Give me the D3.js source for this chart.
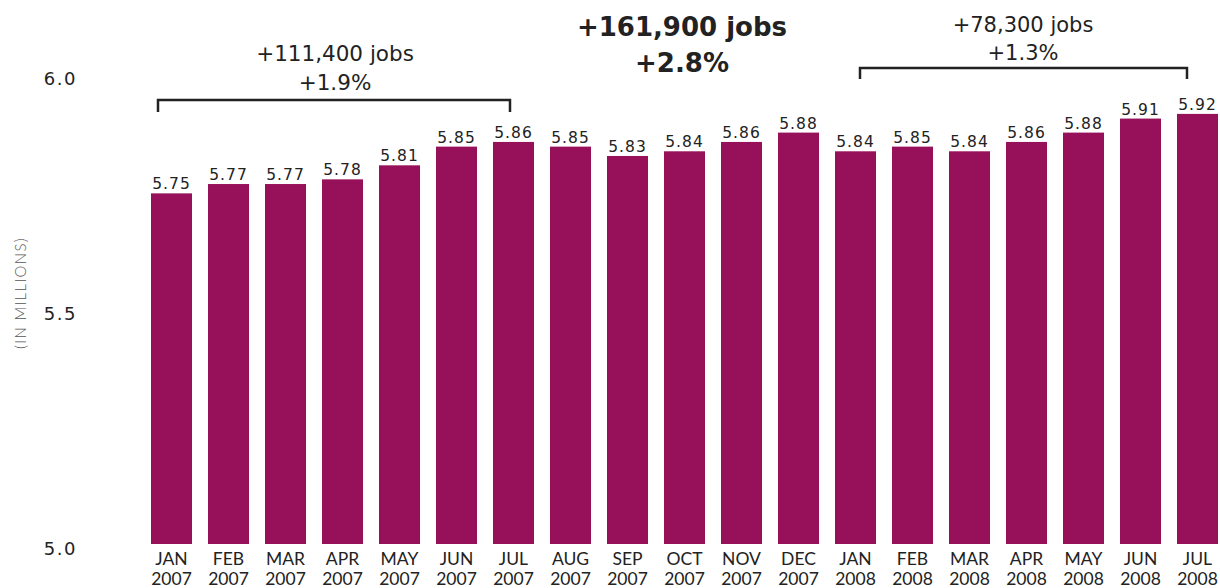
<!DOCTYPE html>
<html><head><meta charset="utf-8">
<script src="https://cdn.jsdelivr.net/npm/d3@7"></script>
<style>body{margin:0;background:#fff}svg{display:block}</style>
</head><body>
<svg id="c" width="1220" height="588"></svg>
<script>
const months = ["JAN","FEB","MAR","APR","MAY","JUN","JUL","AUG","SEP","OCT","NOV","DEC","JAN","FEB","MAR","APR","MAY","JUN","JUL"];
const years = ["2007","2007","2007","2007","2007","2007","2007","2007","2007","2007","2007","2007","2008","2008","2008","2008","2008","2008","2008"];
const values = [5.75,5.77,5.77,5.78,5.81,5.85,5.86,5.85,5.83,5.84,5.86,5.88,5.84,5.85,5.84,5.86,5.88,5.91,5.92];
const yTicks = [5.0,5.5,6.0];
const annLeft = ["+111,400 jobs","+1.9%"];
const annMid = ["+161,900 jobs","+2.8%"];
const annRight = ["+78,300 jobs","+1.3%"];

const svg = d3.select("#c");
const idx = d3.range(values.length);
const x = d3.scaleBand().domain(idx).range([151,1218]).paddingInner(0.2807).paddingOuter(0);
const y = d3.scaleLinear().domain([5,6]).range([544,76.5]);
const tickY = d3.scaleLinear().domain([5,6]).range([549,78.5]);
const font = "'DejaVu Sans', sans-serif";
const color = "#97105a";

svg.selectAll("rect.bar").data(idx).join("rect").attr("class","bar")
  .attr("x",i=>x(i)).attr("width",x.bandwidth())
  .attr("y",i=>y(values[i])).attr("height",i=>y(5)-y(values[i]))
  .attr("fill",color);

svg.selectAll("text.val").data(idx).join("text").attr("class","val")
  .attr("x",i=>x(i)+x.bandwidth()/2).attr("y",i=>y(values[i])-4)
  .attr("text-anchor","middle").attr("font-family",font).attr("font-size",15.5)
  .attr("letter-spacing",1).attr("fill","#222")
  .text(i=>values[i].toFixed(2));

const xl = svg.selectAll("text.xl").data(idx).join("text").attr("class","xl")
  .attr("text-anchor","middle").attr("font-family","Lato, sans-serif").attr("font-size",17.5)
  .attr("fill","#222");
xl.append("tspan").attr("x",i=>x(i)+x.bandwidth()/2).attr("y",565).text(i=>months[i]);
xl.append("tspan").attr("x",i=>x(i)+x.bandwidth()/2).attr("y",584.5).text(i=>years[i]);

svg.selectAll("text.yt").data(yTicks).join("text").attr("class","yt")
  .attr("x",77).attr("y",d=>tickY(d)).attr("dy","0.36em").attr("text-anchor","end")
  .attr("font-family",font).attr("font-size",18).attr("letter-spacing",1.5).attr("fill","#222")
  .text(d=>d.toFixed(1));

svg.append("text").attr("transform","translate(26,293) rotate(-90)")
  .attr("text-anchor","middle").attr("font-family","Lato, sans-serif").attr("font-size",15)
  .attr("letter-spacing",1.3).attr("fill","#555").attr("font-weight",300)
  .text("(IN MILLIONS)");

function bracket(i0,o0,i1,o1,yTop,yBot){
  const x0 = x(i0)+o0, x1 = x(i1)+o1;
  svg.append("path").attr("d",`M${x0},${yBot}V${yTop}H${x1}V${yBot}`)
    .attr("fill","none").attr("stroke","#222").attr("stroke-width",2.5);
}
function ann(lines,cx,y0,y1,size,weight){
  svg.append("text").attr("x",cx).attr("y",y0).attr("text-anchor","middle").attr("font-family",font)
    .attr("font-size",size).attr("font-weight",weight).attr("fill","#222").text(lines[0]);
  svg.append("text").attr("x",cx).attr("y",y1).attr("text-anchor","middle").attr("font-family",font)
    .attr("font-size",size).attr("font-weight",weight).attr("fill","#222").text(lines[1]);
}
bracket(0,7,6,17,100,112);
bracket(12,25,18,10,68,79);
ann(annLeft,335,61,90,21.5,"normal");
ann(annRight,1023,32,60,21,"normal");
ann(annMid,682,36,72,26,"bold");
</script>
</body></html>
